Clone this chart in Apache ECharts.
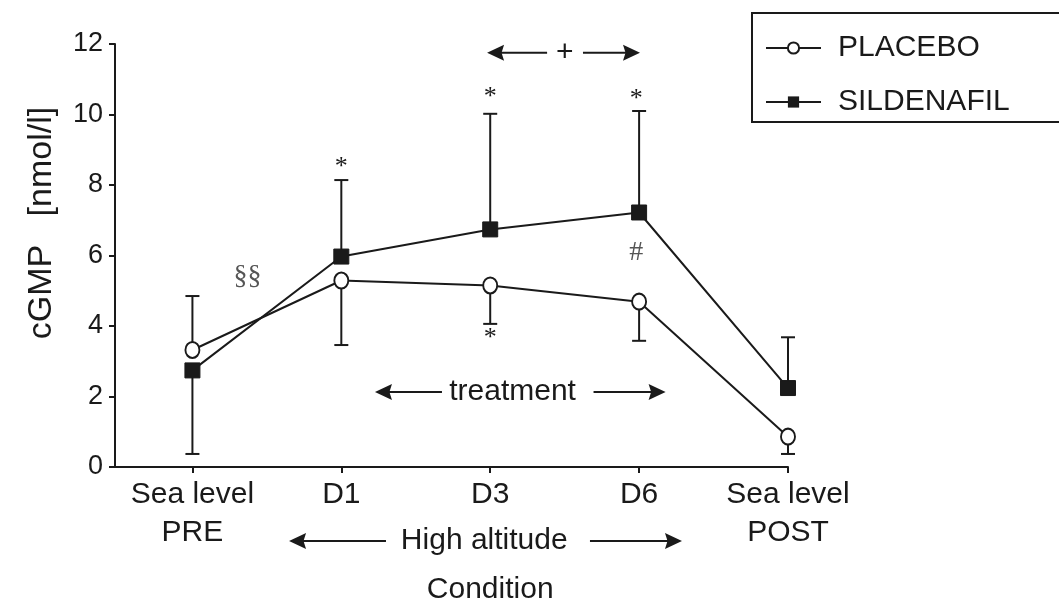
<!DOCTYPE html>
<html><head><meta charset="utf-8">
<script src="https://cdn.jsdelivr.net/npm/echarts@6/dist/echarts.min.js"></script>
<style>html,body{margin:0;padding:0;background:#fff}#c{width:1059px;height:611px}</style>
</head><body><div id="c"></div>
<script>
// ---- data ----
const categories = ['Sea level\nPRE', 'D1', 'D3', 'D6', 'Sea level\nPOST'];
const categoryPositions = [1, 2, 3, 4, 5];
const yTicks = [0, 2, 4, 6, 8, 10, 12];
const placeboMean = [3.32, 5.29, 5.15, 4.69, 0.86];
const placeboErrEnd = [4.85, 3.46, 4.06, 3.58, 0.37];
const sildenafilMean = [2.74, 5.97, 6.74, 7.22, 2.24];
const sildenafilErrEnd = [0.37, 8.14, 10.02, 10.10, 3.68];
// annotation texts: [x, y, text, kind]
const annotations = [
  [2, 8.65, '*', 'star'],
  [3, 10.62, '*', 'star'],
  [3.98, 10.58, '*', 'star'],
  [3, 3.80, '*', 'star'],
  [3.98, 6.07, '#', 'mark'],
  [1.37, 5.39, '§§', 'mark'],
  [3.5, 11.75, '+', 'plus'],
  [3.15, 2.13, 'treatment', 'label'],
  [2.96, -2.1, 'High altitude', 'label'],
  [3.0, -3.49, 'Condition', 'label']
];
// arrows: [xFrom, xTo(tip), y]
const arrows = [
  [2.676, 2.226, 2.13], [3.694, 4.178, 2.13],
  [3.382, 2.979, 11.75], [3.623, 4.006, 11.75],
  [2.300, 1.649, -2.1], [3.670, 4.288, -2.1]
];

const FONT = '"Liberation Sans", Arial, Helvetica, sans-serif';
const INK = '#1a1a1a';

function errData(mean, end) {
  return mean.map((m, i) => [categoryPositions[i], m, end[i]]);
}
function errRender(params, api) {
  const x = api.value(0);
  const p0 = api.coord([x, api.value(1)]);
  const p1 = api.coord([x, api.value(2)]);
  const hw = 7;
  return {
    type: 'group',
    children: [
      { type: 'line', shape: { x1: p0[0], y1: p0[1], x2: p1[0], y2: p1[1] }, style: { stroke: INK, lineWidth: 2 } },
      { type: 'line', shape: { x1: p1[0] - hw, y1: p1[1], x2: p1[0] + hw, y2: p1[1] }, style: { stroke: INK, lineWidth: 2 } }
    ]
  };
}
function arrowRender(params, api) {
  const a = api.coord([api.value(0), api.value(2)]);
  const b = api.coord([api.value(1), api.value(2)]);
  const dir = b[0] > a[0] ? 1 : -1;
  const L = 17, W = 8;
  return {
    type: 'group',
    children: [
      { type: 'line', shape: { x1: a[0], y1: a[1], x2: b[0] - dir * L * 0.8, y2: b[1] }, style: { stroke: INK, lineWidth: 2 } },
      { type: 'polygon', shape: { points: [[b[0], b[1]], [b[0] - dir * L, b[1] - W], [b[0] - dir * L * 0.85, b[1]], [b[0] - dir * L, b[1] + W]] }, style: { fill: INK } }
    ]
  };
}
function annRender(params, api) {
  const p = api.coord([api.value(0), api.value(1)]);
  const d = annotations[params.dataIndex];
  const kind = d[3];
  let font, fill = INK, dy = 0;
  if (kind === 'star') { font = '26px "Liberation Serif", "Times New Roman", serif'; dy = 5; }
  else if (kind === 'mark') { font = '28px "Liberation Serif", "Times New Roman", serif'; fill = '#555'; }
  else if (kind === 'plus') { font = '30px ' + FONT; }
  else { font = '30px ' + FONT; }
  return {
    type: 'text',
    x: p[0], y: p[1] + dy,
    style: { text: d[2], font: font, fill: fill, align: 'center', verticalAlign: 'middle' }
  };
}

const chart = echarts.init(document.getElementById('c'), null, { renderer: 'canvas' });
chart.setOption({
  backgroundColor: '#fff',
  animation: false,
  grid: { left: 115, right: 271, top: 44, bottom: 144 },
  xAxis: {
    type: 'value', min: 0.48, max: 5,
    axisLine: { show: true, lineStyle: { color: INK, width: 2 } },
    axisTick: { show: true, customValues: categoryPositions, length: 6, lineStyle: { color: INK, width: 2 } },
    axisLabel: {
      show: true, customValues: categoryPositions,
      formatter: v => categories[Math.round(v) - 1] || '',
      fontFamily: FONT, fontSize: 30, color: INK, lineHeight: 38, margin: 9
    },
    splitLine: { show: false }
  },
  yAxis: {
    type: 'value', min: 0, max: 12, interval: 2,
    axisLine: { show: true, lineStyle: { color: INK, width: 2 } },
    axisTick: { show: true, length: 6, lineStyle: { color: INK, width: 2 } },
    axisLabel: { fontFamily: FONT, fontSize: 27, color: INK, margin: 12,
      formatter: v => yTicks.includes(v) ? String(v) : '' },
    splitLine: { show: false }
  },
  legend: {
    orient: 'vertical', left: 752, top: 13,
    data: ['PLACEBO', 'SILDENAFIL'],
    borderColor: INK, borderWidth: 2,
    padding: [20, 80, 5, 13],
    itemGap: 24, itemWidth: 55, itemHeight: 14,
    textStyle: { fontFamily: FONT, fontSize: 30, color: INK, padding: [0, 0, 0, 12] }
  },
  graphic: [
    { type: 'text', x: 42, y: 223, rotation: Math.PI / 2,
      style: { text: 'cGMP   [nmol/l]', font: '34px ' + FONT, fill: INK, align: 'center', verticalAlign: 'middle' } }
  ],
  series: [
    { type: 'custom', name: 'errP', data: errData(placeboMean, placeboErrEnd), renderItem: errRender, z: 1, silent: true },
    { type: 'custom', name: 'errS', data: errData(sildenafilMean, sildenafilErrEnd), renderItem: errRender, z: 1, silent: true },
    { type: 'line', name: 'SILDENAFIL', data: sildenafilMean.map((v, i) => [categoryPositions[i], v]),
      symbol: 'rect', symbolSize: 15, lineStyle: { color: INK, width: 2 },
      itemStyle: { color: INK, borderColor: INK }, z: 3 },
    { type: 'line', name: 'PLACEBO', data: placeboMean.map((v, i) => [categoryPositions[i], v]),
      symbol: 'circle', symbolSize: [14, 16], showAllSymbol: true, lineStyle: { color: INK, width: 2 },
      itemStyle: { color: '#fff', borderColor: INK, borderWidth: 2 }, z: 4 },
    { type: 'custom', name: 'arrows', data: arrows, renderItem: arrowRender, clip: false, silent: true, z: 2 },
    { type: 'custom', name: 'ann', data: annotations.map(a => [a[0], a[1]]), renderItem: annRender, clip: false, silent: true, z: 5 }
  ]
});
</script></body></html>
